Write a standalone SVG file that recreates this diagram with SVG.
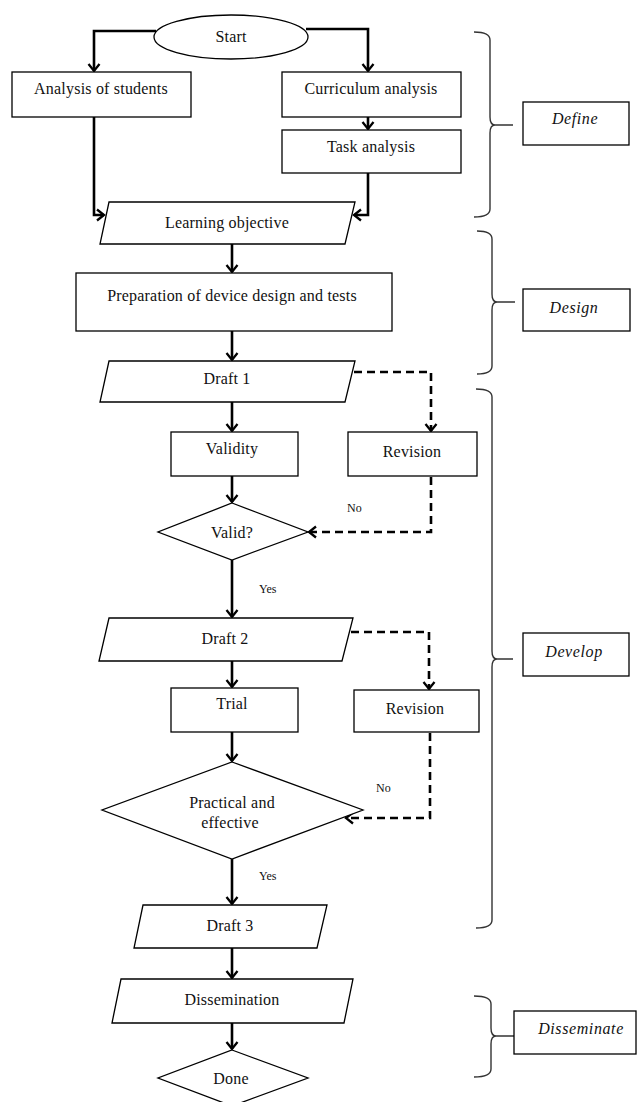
<svg xmlns="http://www.w3.org/2000/svg" width="637" height="1102" viewBox="0 0 637 1102">
<style>
.n{fill:#fff;stroke:#000;stroke-width:1.3}
.t{font-family:"Liberation Serif","Times New Roman",serif;font-size:16px;letter-spacing:0.2px;fill:#111;text-anchor:middle;dominant-baseline:central}
.s{font-family:"Liberation Serif","Times New Roman",serif;font-size:12px;fill:#111;dominant-baseline:central}
.p{font-family:"Liberation Serif","Times New Roman",serif;font-style:italic;font-size:16px;letter-spacing:0.6px;fill:#111;text-anchor:middle;dominant-baseline:central}
.c{fill:none;stroke:#000;stroke-width:2.6}
.d{fill:none;stroke:#000;stroke-width:2.6;stroke-dasharray:8 5}
.b{fill:none;stroke:#333;stroke-width:1.4}
</style>
<defs>
<marker id="ah" markerUnits="userSpaceOnUse" viewBox="-10 -8 12 16" refX="0" refY="0" markerWidth="12" markerHeight="16" orient="auto" overflow="visible">
<path d="M-7,-5.5 L0,0 L-7,5.5" fill="none" stroke="#000" stroke-width="2.3"/>
</marker>
</defs>

<g id="connectors">
<path class="c" d="M156,31 H94 V71" marker-end="url(#ah)"/>
<path class="c" d="M306,29 H368 V71" marker-end="url(#ah)"/>
<path class="c" d="M368,117 V129" marker-end="url(#ah)"/>
<path class="c" d="M94,117 V215 H104" marker-end="url(#ah)"/>
<path class="c" d="M368,173 V215 H354" marker-end="url(#ah)"/>
<path class="c" d="M232,244 V272" marker-end="url(#ah)"/>
<path class="c" d="M232,331 V360" marker-end="url(#ah)"/>
<path class="c" d="M232,402 V431" marker-end="url(#ah)"/>
<path class="c" d="M232,476 V502" marker-end="url(#ah)"/>
<path class="c" d="M232,560 V617" marker-end="url(#ah)"/>
<path class="c" d="M232,661 V687" marker-end="url(#ah)"/>
<path class="c" d="M232,732 V761" marker-end="url(#ah)"/>
<path class="c" d="M232,859 V904" marker-end="url(#ah)"/>
<path class="c" d="M232,948 V978" marker-end="url(#ah)"/>
<path class="c" d="M232,1023 V1049" marker-end="url(#ah)"/>
<path class="d" d="M354,372 H431 V431" marker-end="url(#ah)"/>
<path class="d" d="M431,477 V532 H309" marker-end="url(#ah)"/>
<path class="d" d="M351,632 H429 V689" marker-end="url(#ah)"/>
<path class="d" d="M430,733 V818 H346" marker-end="url(#ah)"/>
<text class="s" x="347" y="508">No</text>
<text class="s" x="259" y="589">Yes</text>
<text class="s" x="376" y="788">No</text>
<text class="s" x="259" y="876">Yes</text>
</g>

<g id="start"><ellipse class="n" cx="231" cy="37" rx="77" ry="22"/><text class="t" x="231" y="36">Start</text></g>
<g id="analysis-students"><rect class="n" x="12" y="72" width="179" height="45"/><text class="t" x="101" y="88">Analysis of students</text></g>
<g id="curriculum"><rect class="n" x="282" y="72" width="179" height="45"/><text class="t" x="371" y="88">Curriculum analysis</text></g>
<g id="task"><rect class="n" x="282" y="130" width="179" height="43"/><text class="t" x="371" y="146">Task analysis</text></g>
<g id="learning-objective"><polygon class="n" points="109,202 355,202 345,244 100,244"/><text class="t" x="227" y="222">Learning objective</text></g>
<g id="preparation"><rect class="n" x="76" y="273" width="316" height="58"/><text class="t" x="232" y="295">Preparation of device design and tests</text></g>
<g id="draft1"><polygon class="n" points="109,361 355,361 345,402 100,402"/><text class="t" x="227" y="378">Draft 1</text></g>
<g id="validity"><rect class="n" x="171" y="432" width="127" height="44"/><text class="t" x="232" y="448">Validity</text></g>
<g id="revision1"><rect class="n" x="348" y="432" width="129" height="44"/><text class="t" x="412" y="451">Revision</text></g>
<g id="valid"><polygon class="n" points="232,503 308,532 232,560 158,532"/><text class="t" x="232" y="532">Valid?</text></g>
<g id="draft2"><polygon class="n" points="109,618 353,618 342,661 99,661"/><text class="t" x="225" y="638">Draft 2</text></g>
<g id="trial"><rect class="n" x="171" y="688" width="127" height="44"/><text class="t" x="232" y="703">Trial</text></g>
<g id="revision2"><rect class="n" x="354" y="690" width="125" height="42"/><text class="t" x="415" y="708">Revision</text></g>
<g id="practical"><polygon class="n" points="232,762 363,810 232,859 102,810"/><text class="t" x="232" y="802">Practical and</text><text class="t" x="230" y="822">effective</text></g>
<g id="draft3"><polygon class="n" points="143,905 327,905 317,948 134,948"/><text class="t" x="230" y="925">Draft 3</text></g>
<g id="dissemination"><polygon class="n" points="121,979 353,979 344,1023 112,1023"/><text class="t" x="232" y="999">Dissemination</text></g>
<g id="done"><polygon class="n" points="232,1050 308,1078 232,1106 158,1078"/><text class="t" x="231" y="1078">Done</text></g>

<g id="define-phase">
<path class="b" d="M474,32 Q490,32 490,40 V117 Q490,125 495,125 Q490,125 490,133 V209 Q490,217 474,217 M495,125 H513"/>
<rect class="n" x="523" y="102" width="106" height="43"/><text class="p" x="575" y="118">Define</text>
</g>
<g id="design-phase">
<path class="b" d="M477,231 Q492,231 492,239 V294 Q492,302 497,302 Q492,302 492,310 V366 Q492,374 477,374 M497,302 H515" stroke="#666"/>
<rect class="n" x="523" y="289" width="107" height="42"/><text class="p" x="574" y="307">Design</text>
</g>
<g id="develop-phase">
<path class="b" d="M476,389 Q492,389 492,397 V651 Q492,659 497,659 Q492,659 492,667 V920 Q492,928 476,928 M497,659 H513"/>
<rect class="n" x="523" y="633" width="106" height="43"/><text class="p" x="574" y="651">Develop</text>
</g>
<g id="disseminate-phase">
<path class="b" d="M474,996 Q491,996 491,1004 V1028 Q491,1036 496,1036 Q491,1036 491,1044 V1069 Q491,1077 474,1077 M496,1036 H514"/>
<rect class="n" x="514" y="1011" width="122" height="43"/><text class="p" x="581" y="1028">Disseminate</text>
</g>
</svg>
